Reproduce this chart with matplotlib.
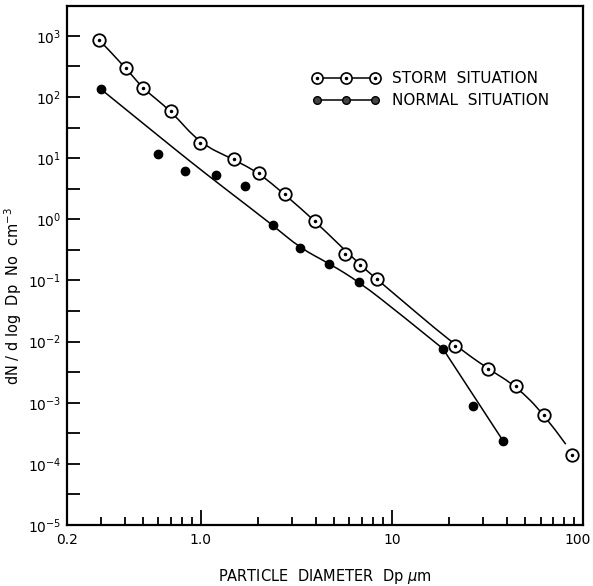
import numpy as np
import matplotlib
matplotlib.use('Agg')
import matplotlib.pyplot as plt
import matplotlib.transforms as mtransforms
from matplotlib.legend_handler import HandlerTuple
from matplotlib.path import Path
from matplotlib.patches import PathPatch
from matplotlib.ticker import FixedLocator, NullFormatter

# 风暴情况 - 测量点
storm_x = [0.294, 0.407, 0.497, 0.698, 0.99, 1.49, 2.01, 2.75, 3.97, 5.69, 6.81, 8.38,
           21.5, 32.0, 44.6, 62.9, 87.4]
storm_y = [860, 299, 139, 59.6, 17.4, 9.5, 5.74, 2.57, 0.93, 0.267, 0.181, 0.104,
           0.0086, 0.00357, 0.00188, 6.4e-4, 1.4e-4]
# 风暴情况 - 拟合曲线的节点
storm_fit_x = [0.294, 0.407, 0.497, 0.698, 0.99, 1.49, 2.01, 2.75, 3.97, 6.81, 8.38,
               21.5, 32.0, 44.6, 62.9, 81.3]
storm_fit_y = [860, 299, 139, 59.6, 17.4, 9.5, 5.74, 2.57, 0.93, 0.181, 0.104,
               0.0086, 0.00357, 0.00188, 6.4e-4, 2.1e-4]

# 正常情况 - 测量点
normal_x = [0.301, 0.595, 0.828, 1.21, 1.70, 2.39, 3.32, 4.72, 6.73, 18.5, 26.7, 38.0]
normal_y = [134, 11.6, 6.1, 5.27, 3.5, 0.80, 0.34, 0.185, 0.095, 0.0077, 8.9e-4, 2.4e-4]
# 正常情况 - 拟合曲线的节点
normal_fit_x = [0.301, 0.595, 0.887, 1.32, 2.39, 3.32, 4.72, 6.73, 11.0, 18.5]
normal_fit_y = [134, 23.8, 8.7, 3.3, 0.797, 0.338, 0.188, 0.095, 0.0288, 0.00768]
normal_tail_x = [18.5, 38.0]
normal_tail_y = [0.00768, 2.45e-4]

x_ticks = [0.2, 1.0, 10, 100]
x_tick_labels = ['0.2', '1.0', '10', '100']
y_exps = [-5, -4, -3, -2, -1, 0, 1, 2, 3]


def smooth_path(xs, ys):
    # 用节点作二次贝塞尔控制点, 画一条平滑曲线 (在对数坐标下)
    lx, ly = np.log10(xs), np.log10(ys)
    verts = [(xs[0], ys[0])]
    codes = [Path.MOVETO]
    for i in range(1, len(xs) - 1):
        mid = (10 ** ((lx[i] + lx[i + 1]) / 2), 10 ** ((ly[i] + ly[i + 1]) / 2))
        verts += [(xs[i], ys[i]), mid]
        codes += [Path.CURVE3, Path.CURVE3]
    verts[-1] = (xs[-1], ys[-1])
    return Path(verts, codes)


plt.rcParams['font.family'] = ['DejaVu Sans']
fig = plt.figure(figsize=(5.93, 5.86), dpi=100)
ax = fig.add_axes([0.113, 0.104, 0.870, 0.886])

ax.set_xscale('log')
ax.set_yscale('log')
ax.set_xlim(0.2, 100)
ax.set_ylim(1e-5, 10 ** 3.49)

# 曲线
ax.add_patch(PathPatch(smooth_path(storm_fit_x, storm_fit_y), fc='none', ec='black', lw=1.1))
ax.add_patch(PathPatch(smooth_path(normal_fit_x, normal_fit_y), fc='none', ec='black', lw=1.1))
ax.plot(normal_tail_x, normal_tail_y, color='black', lw=1.1)

# 数据点
ax.plot(storm_x, storm_y, ls='none', marker='o', ms=9, mfc='white', mec='black', mew=1.3)
ax.plot(storm_x, storm_y, ls='none', marker='o', ms=1.5, color='black')
ax.plot(normal_x, normal_y, ls='none', marker='o', ms=6, color='black')

# 图例
h_storm = (plt.Line2D([], [], color='black', lw=1.1, marker='o', ms=8, mfc='white', mec='black', mew=1.2),
           plt.Line2D([], [], ls='none', marker='o', ms=1.5, color='black'))
h_normal = plt.Line2D([], [], color='black', lw=1.1, marker='o', ms=5.5, mfc='#444444', mec='black')
ax.legend([h_storm, h_normal], ['STORM  SITUATION', 'NORMAL  SITUATION'],
          numpoints=3, frameon=False, loc='upper left', bbox_to_anchor=(0.449, 0.901),
          handlelength=4.4, handletextpad=0.8, labelspacing=0.45, fontsize=11,
          handler_map={tuple: HandlerTuple(ndivide=1)})

ax.set_xticks(x_ticks)
ax.set_xticklabels(x_tick_labels)
ax.xaxis.set_minor_locator(FixedLocator([v * d for d in (0.1, 1, 10) for v in range(2, 10) if 0.2 < v * d < 100]))
ax.xaxis.set_minor_formatter(NullFormatter())

ax.set_yticks([10.0 ** e for e in y_exps])
ax.set_yticklabels([r'$10^{%d}$' % e for e in y_exps])
ax.yaxis.set_minor_locator(FixedLocator([10 ** (e + 0.5) for e in y_exps[:-1]]))
ax.yaxis.set_minor_formatter(NullFormatter())

ax.tick_params(axis='both', which='both', direction='in', top=False, right=False,
               width=1.3, labelsize=10)
ax.tick_params(axis='x', which='major', length=11, pad=6)
ax.tick_params(axis='x', which='minor', length=6)
ax.tick_params(axis='y', which='major', length=9, pad=4)
ax.tick_params(axis='y', which='minor', length=9)
for s in ax.spines.values():
    s.set_linewidth(1.6)

# "100" 稍向左移, 免得被右边裁掉
last = ax.get_xticklabels()[-1]
last.set_transform(last.get_transform() + mtransforms.ScaledTranslation(-0.05, 0, fig.dpi_scale_trans))

ax.set_xlabel(r'PARTICLE  DIAMETER  Dp $\mu$m', fontsize=10.5, labelpad=14)
ax.set_ylabel(r'dN / d log  Dp  No  cm$^{-3}$', fontsize=10.5)
ax.yaxis.set_label_coords(-0.083, 0.441)

fig.savefig('out.png', dpi=100)
